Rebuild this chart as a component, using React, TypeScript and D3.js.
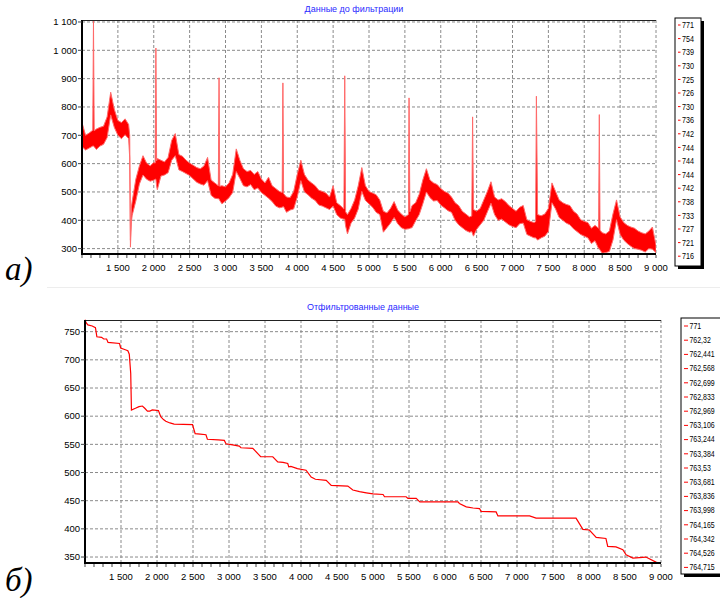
import React from "react";
import * as d3 from "d3";

// ---- raw signal (band between local min and max), x in samples ----
const rawX = [
  1000, 1050, 1100, 1150, 1160, 1170, 1200, 1250, 1300, 1350, 1400, 1450, 1500, 1550, 1600, 1650,
  1665, 1675, 1688, 1700, 1750, 1800, 1850, 1900, 1950, 2000, 2020, 2030, 2040, 2050, 2100, 2150,
  2200, 2250, 2300, 2350, 2400, 2450, 2500, 2550, 2600, 2650, 2700, 2750, 2800, 2850, 2900, 2910,
  2920, 2950, 3000, 3050, 3100, 3150, 3200, 3250, 3300, 3350, 3400, 3450, 3500, 3550, 3600, 3650,
  3700, 3750, 3790, 3800, 3810, 3850, 3900, 3950, 4000, 4050, 4100, 4150, 4200, 4250, 4300, 4350,
  4400, 4450, 4500, 4550, 4600, 4650, 4662, 4674, 4700, 4750, 4800, 4850, 4900, 4950, 5000, 5050,
  5100, 5150, 5200, 5250, 5300, 5350, 5400, 5450, 5500, 5550, 5558, 5570, 5600, 5650, 5700, 5750,
  5800, 5850, 5900, 5950, 6000, 6050, 6100, 6150, 6200, 6250, 6300, 6350, 6400, 6432, 6444, 6456,
  6500, 6550, 6600, 6650, 6700, 6750, 6800, 6850, 6900, 6950, 7000, 7050, 7100, 7150, 7200, 7250,
  7300, 7322, 7333, 7350, 7400, 7450, 7500, 7550, 7600, 7650, 7700, 7750, 7800, 7850, 7900, 7950,
  8000, 8050, 8100, 8150, 8200, 8210, 8220, 8250, 8300, 8350, 8400, 8450, 8500, 8550, 8600, 8650,
  8700, 8750, 8800, 8850, 8900, 8950, 9000,
];
const rawHi = [
  745, 700, 708, 718, 1107, 716, 722, 728, 732, 765, 852, 792, 752, 745, 758, 738,
  700, 330, 445, 468, 545, 592, 628, 602, 592, 604, 602, 1008, 610, 618, 612, 606,
  622, 682, 706, 632, 626, 612, 602, 594, 586, 582, 592, 622, 542, 532, 522, 903,
  520, 522, 518, 532, 562, 652, 612, 582, 572, 576, 562, 572, 546, 532, 552, 522,
  512, 502, 498, 885, 494, 482, 480, 502, 562, 612, 562, 542, 532, 522, 506, 502,
  496, 482, 522, 462, 452, 440, 910, 430, 420, 442, 472, 522, 586, 522, 502, 496,
  490, 472, 432, 426, 442, 466, 436, 422, 412, 420, 832, 430, 452, 462, 492, 542,
  582, 542, 532, 526, 512, 502, 496, 482, 462, 452, 432, 422, 412, 415, 765, 438,
  432, 442, 472, 502, 536, 482, 472, 476, 466, 452, 442, 432, 446, 452, 402, 396,
  392, 395, 838, 420, 416, 422, 442, 532, 502, 472, 462, 456, 452, 432, 422, 402,
  396, 392, 372, 382, 372, 773, 365, 356, 352, 362, 422, 472, 412, 392, 382, 376,
  372, 362, 356, 352, 362, 376, 312,
];
const rawLo = [
  660, 648, 655, 662, 662, 660, 650, 662, 668, 692, 772, 728, 700, 688, 702, 688,
  620, 305, 395, 418, 468, 528, 560, 545, 538, 542, 545, 545, 520, 508, 556, 560,
  568, 612, 628, 578, 572, 565, 558, 546, 534, 528, 524, 540, 488, 478, 476, 476,
  470, 458, 468, 480, 498, 572, 548, 522, 518, 526, 508, 514, 498, 488, 478, 466,
  450, 444, 446, 448, 448, 428, 436, 440, 482, 540, 500, 490, 478, 470, 454, 450,
  444, 438, 450, 420, 408, 404, 404, 380, 352, 390, 408, 440, 502, 470, 458, 446,
  428, 420, 358, 374, 390, 410, 388, 374, 368, 370, 370, 372, 374, 398, 420, 458,
  500, 480, 468, 470, 454, 444, 434, 428, 400, 384, 374, 364, 358, 360, 352, 344,
  368, 384, 400, 430, 460, 420, 400, 404, 394, 384, 378, 374, 388, 390, 350, 344,
  338, 338, 335, 330, 338, 344, 360, 462, 440, 410, 400, 390, 384, 370, 360, 350,
  344, 338, 318, 328, 300, 300, 295, 284, 286, 290, 330, 402, 350, 330, 318, 308,
  300, 298, 294, 288, 300, 298, 286,
];

// ---- filtered signal ----
const filtX = [
  1000, 1015, 1040, 1100, 1145, 1165, 1230, 1260, 1300, 1320, 1480, 1495, 1560, 1595, 1615, 1635,
  1645, 1700, 1750, 1797, 1830, 1867, 1900, 1935, 2020, 2052, 2090, 2122, 2180, 2238, 2493, 2530,
  2600, 2680, 2700, 2850, 2935, 2958, 3050, 3143, 3166, 3330, 3420, 3440, 3608, 3677, 3750, 3816,
  3830, 3860, 3950, 4070, 4141, 4200, 4350, 4420, 4650, 4720, 4813, 4907, 5000, 5140, 5160, 5460,
  5485, 5600, 5650, 6180, 6200, 6295, 6390, 6480, 6500, 6710, 6735, 7175, 7265, 7820, 7915, 8005,
  8100, 8235, 8260, 8375, 8470, 8515, 8610, 8790, 8930, 8975, 9000,
];
const filtY = [
  771, 766, 762, 760, 757, 741, 740, 737, 737, 731, 729, 721, 718, 716, 710, 676,
  611, 614, 617, 618, 614, 609, 609, 611, 610, 599, 594, 591, 588, 586, 585, 569,
  568, 567, 559, 558, 557, 551, 549, 547, 544, 543, 531, 528, 528, 519, 518, 516,
  510, 511, 507, 504, 492, 488, 486, 477, 476, 469, 466, 464, 462, 461, 457, 457,
  454, 454, 448, 448, 445, 439, 437, 436, 431, 430, 423, 423, 419, 419, 399, 398,
  385, 383, 369, 368, 363, 354, 348, 350, 341, 339, 339,
];

const ticksX = [1500, 2000, 2500, 3000, 3500, 4000, 4500, 5000, 5500, 6000, 6500, 7000, 7500, 8000, 8500, 9000];
const rawTicksY = [300, 400, 500, 600, 700, 800, 900, 1000, 1100];
const filtTicksY = [350, 400, 450, 500, 550, 600, 650, 700, 750];

const rawLegend = [771, 754, 739, 730, 725, 726, 730, 736, 742, 744, 744, 744, 742, 738, 733, 727, 721, 716];
const filtLegend = [
  771, 762.32, 762.441, 762.568, 762.699, 762.833, 762.969, 763.106, 763.244, 763.384, 763.53,
  763.681, 763.836, 763.998, 764.165, 764.342, 764.526, 764.715,
];

const ru = d3.formatLocale({ decimal: ",", thousands: " ", grouping: [3], currency: ["", ""] });
const fmtTick = ru.format(",d");
const fmtLegend = ru.format("~f");

const NARROW = "'Liberation Sans Narrow', 'Arial Narrow', 'Liberation Sans', Arial, sans-serif";
const GRID = "#8a8a8a";
const RED = "#ff0000";

// condensed width of a legend label (narrow digits, thin comma)
function labelWidth(s, digit) {
  let w = 0;
  for (const ch of s) w += ch === "," ? digit * 0.45 : digit;
  return w;
}

function Grid({ x, y, yTicks }) {
  const [x0, x1] = x.range();
  const [y0, y1] = y.range();
  return (
    <g>
      {ticksX.map((t) => (
        <line key={"gx" + t} x1={x(t)} x2={x(t)} y1={y1} y2={y0} stroke={GRID} strokeDasharray="3,2" />
      ))}
      {yTicks.map((t) => (
        <line key={"gy" + t} x1={x0} x2={x1} y1={y(t)} y2={y(t)} stroke={GRID} strokeDasharray="3,2" />
      ))}
    </g>
  );
}

function Axes({ x, y, yTicks }) {
  const [x0, x1] = x.range();
  const [y0, y1] = y.range();
  const minor = d3.range(1000, 9001, 125);
  return (
    <g fontFamily={NARROW} fontSize={9.5} fill="#000">
      <line x1={x0} x2={x1} y1={y1 + 0.5} y2={y1 + 0.5} stroke="#222" />
      <line x1={x0} x2={x0} y1={y1} y2={y0 + 1} stroke="#000" strokeWidth={2} />
      <line x1={x0 - 1} x2={x1} y1={y0} y2={y0} stroke="#000" strokeWidth={2} />
      {minor.map((t) => (
        <line key={"mx" + t} x1={x(t)} x2={x(t)} y1={y0 + 1} y2={y0 + 4} stroke="#444" />
      ))}
      {ticksX.map((t) => (
        <text key={"tx" + t} x={x(t)} y={y0 + 17} textAnchor="middle">
          {fmtTick(t)}
        </text>
      ))}
      {yTicks.map((t) => (
        <g key={"ty" + t}>
          <line x1={x0 - 4} x2={x0} y1={y(t)} y2={y(t)} stroke="#444" />
          <text x={x0 - 5} y={y(t)} dy="0.35em" textAnchor="end">
            {fmtTick(t)}
          </text>
        </g>
      ))}
    </g>
  );
}

function Legend({ values, left, top, width, height, step, first, dash, digit, size }) {
  return (
    <g fontFamily={NARROW} fontSize={size}>
      <rect x={left + 3} y={top + 3} width={width} height={height} fill="#000" />
      <rect x={left} y={top} width={width} height={height} fill="#fff" stroke="#000" />
      {values.map((v, i) => {
        const cy = first + i * step;
        const s = fmtLegend(v);
        return (
          <g key={i}>
            <line x1={left + 3} x2={left + 3 + dash} y1={cy} y2={cy} stroke={RED} />
            <text
              x={left + 4.5 + dash}
              y={cy}
              dy="0.35em"
              fill="#000"
              textLength={labelWidth(s, digit)}
              lengthAdjust="spacingAndGlyphs"
            >
              {s}
            </text>
          </g>
        );
      })}
    </g>
  );
}

export default function App() {
  const xTop = d3.scaleLinear().domain([1000, 9000]).range([82, 656]);
  const yTop = d3.scaleLinear().domain([281, 1107]).range([254, 20]);
  const xBot = d3.scaleLinear().domain([1000, 9000]).range([85, 661]);
  const yBot = d3.scaleLinear().domain([339.4, 770.7]).range([563, 320]);

  const band = d3
    .area<number>()
    .x((d, i) => xTop(rawX[i]))
    .y0((d, i) => yTop(rawLo[i]))
    .y1((d) => yTop(d));

  const filtLine = d3
    .line<number>()
    .x((d, i) => xBot(filtX[i]))
    .y((d) => yBot(d));

  return (
    <svg width={720} height={598} style={{ position: "absolute", left: 0, top: 0, background: "#fff" }}>
      <rect width={720} height={598} fill="#fff" />

      {/* а) raw data */}
      <text x={354} y={11.5} textAnchor="middle" fontFamily="'Liberation Sans', Arial, sans-serif" fontSize={9} fill="#2a2aff">
        Данные до фильтрации
      </text>
      <Grid x={xTop} y={yTop} yTicks={rawTicksY} />
      <clipPath id="clipTop">
        <rect x={82} y={20} width={574} height={234} />
      </clipPath>
      <path d={band(rawHi) || ""} fill={RED} stroke="#ff6a6a" strokeWidth={1} clipPath="url(#clipTop)" />
      <Axes x={xTop} y={yTop} yTicks={rawTicksY} />
      <Legend values={rawLegend} left={675} top={18} width={26} height={248} step={13.6} first={25} dash={2.5} digit={4} size={9} />
      <text x={5} y={280} fontFamily="'Liberation Serif', 'Times New Roman', serif" fontStyle="italic" fontSize={33}>
        а)
      </text>
      <line x1={47} x2={720} y1={287.5} y2={287.5} stroke="#ededed" />

      {/* б) filtered data */}
      <text x={363} y={310} textAnchor="middle" fontFamily="'Liberation Sans', Arial, sans-serif" fontSize={9} fill="#2a2aff">
        Отфильтрованные данные
      </text>
      <Grid x={xBot} y={yBot} yTicks={filtTicksY} />
      <path d={filtLine(filtY) || ""} fill="none" stroke={RED} strokeWidth={1.2} />
      <Axes x={xBot} y={yBot} yTicks={filtTicksY} />
      <Legend values={filtLegend} left={681} top={318} width={50} height={256} step={14.2} first={326} dash={4} digit={3.9} size={8.2} />
      <text x={5} y={591} fontFamily="'Liberation Serif', 'Times New Roman', serif" fontStyle="italic" fontSize={33}>
        б)
      </text>
    </svg>
  );
}
